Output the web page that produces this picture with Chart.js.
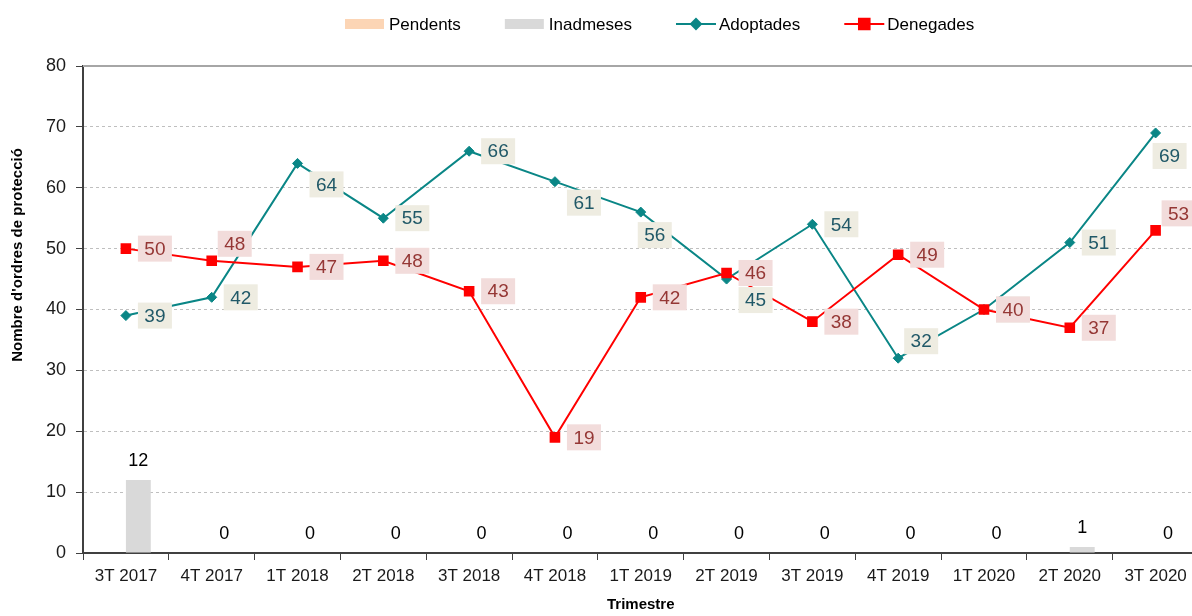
<!DOCTYPE html>
<html>
<head>
<meta charset="utf-8">
<script src="https://cdn.jsdelivr.net/npm/chart.js@4.4.1/dist/chart.umd.min.js"></script>
<style>
  html, body { margin: 0; padding: 0; background: #fff; overflow: hidden; }
  #wrap { width: 1206px; height: 616px; }
</style>
</head>
<body>
<div id="wrap"><canvas id="grafic" width="1206" height="616"></canvas></div>
<script>
// dades llegides del gràfic
const trimestres = ['3T 2017', '4T 2017', '1T 2018', '2T 2018', '3T 2018', '4T 2018', '1T 2019',
                    '2T 2019', '3T 2019', '4T 2019', '1T 2020', '2T 2020', '3T 2020'];
const pendents  = [0, 0, 0, 0, 0, 0, 0, 0, 0, 0, 0, 0, 0];
const inadmeses = [12, 0, 0, 0, 0, 0, 0, 0, 0, 0, 0, 1, 0];
const adoptades = [39, 42, 64, 55, 66, 61, 56, 45, 54, 32, 40, 51, 69];
const denegades = [50, 48, 47, 48, 43, 19, 42, 46, 38, 49, 40, 37, 53];

// on va cada etiqueta respecte del punt (r = dreta, br = baix-dreta, b = baix, ur = dalt-dreta)
const adoptLloc = ['r', 'r', 'br', 'r', 'r', 'br', 'b', 'br', 'r', 'ur', 'r', 'r', 'b'];
const denegLloc = ['r', 'ur', 'r', 'r', 'r', 'r', 'r', 'r', 'r', 'r', 'r', 'r', 'ur'];
const desplac = { r: [29, 0], br: [29, 21], b: [14, 23], ur: [23, -17] };

const FONT = '"Liberation Sans", Arial, sans-serif';
const TEAL = '#0A8686';
const VERMELL = '#FF0000';

function etiquetesLinia(chart, idx, valors, llocs, fons, color) {
  const ctx = chart.ctx;
  const meta = chart.getDatasetMeta(idx);
  meta.data.forEach((pt, i) => {
    const [dx, dy] = desplac[llocs[i]];
    const cx = pt.x + dx, cy = pt.y + dy;
    ctx.fillStyle = fons;
    ctx.fillRect(cx - 17, cy - 13, 34, 26);
    ctx.fillStyle = color;
    ctx.fillText(String(valors[i]), cx, cy + 1);
  });
}

const etiquetes = {
  id: 'etiquetes',
  afterDatasetsDraw(chart) {
    const ctx = chart.ctx;
    const a = chart.chartArea;
    ctx.save();
    // vora superior del gràfic
    ctx.strokeStyle = '#A6A6A6';
    ctx.lineWidth = 2;
    ctx.beginPath();
    ctx.moveTo(a.left, a.top);
    ctx.lineTo(a.right, a.top);
    ctx.stroke();

    ctx.textAlign = 'center';
    ctx.textBaseline = 'middle';
    // valors de les barres
    ctx.font = '18px ' + FONT;
    ctx.fillStyle = '#000';
    chart.getDatasetMeta(1).data.forEach((bar, i) => {
      ctx.fillText(String(inadmeses[i]), bar.x, bar.y - 19);
    });
    // valors de les línies
    ctx.font = '19px ' + FONT;
    etiquetesLinia(chart, 2, adoptades, adoptLloc, '#EEECE1', '#215968');
    etiquetesLinia(chart, 3, denegades, denegLloc, '#F2DCDB', '#953735');
    ctx.restore();
  }
};

// llegenda i títol vertical dibuixats a mà
const llegenda = {
  id: 'llegenda',
  afterDraw(chart) {
    const ctx = chart.ctx;
    const y = 24;
    let x = 345;
    ctx.save();
    ctx.font = '17px ' + FONT;
    ctx.textBaseline = 'middle';
    ctx.textAlign = 'left';
    chart.data.datasets.forEach(ds => {
      if (ds.type === 'bar') {
        ctx.fillStyle = ds.backgroundColor;
        ctx.fillRect(x, y - 5, 39, 10);
        x += 44;
      } else {
        ctx.strokeStyle = ds.borderColor;
        ctx.lineWidth = 2;
        ctx.beginPath();
        ctx.moveTo(x, y);
        ctx.lineTo(x + 40, y);
        ctx.stroke();
        Chart.helpers.drawPoint(ctx, {
          pointStyle: ds.pointStyle,
          radius: ds.pointRadius,
          borderWidth: 1
        }, x + 20, y);
        ctx.fillStyle = ds.borderColor;
        ctx.fill();
        x += 43;
      }
      ctx.fillStyle = '#000';
      ctx.fillText(ds.label, x, y + 1);
      x += ctx.measureText(ds.label).width + 44;
    });

    ctx.translate(18, 255);
    ctx.rotate(-Math.PI / 2);
    ctx.textAlign = 'center';
    ctx.font = 'bold 15px ' + FONT;
    ctx.fillText("Nombre d'ordres de protecció", 0, 0);
    ctx.restore();
  }
};

new Chart(document.getElementById('grafic'), {
  type: 'bar',
  data: {
    labels: trimestres,
    datasets: [
      {
        type: 'bar',
        label: 'Pendents',
        data: pendents,
        backgroundColor: '#FCD5B5',
        borderWidth: 0,
        barPercentage: 1,
        categoryPercentage: 0.58,
        order: 2
      },
      {
        type: 'bar',
        label: 'Inadmeses',
        data: inadmeses,
        backgroundColor: '#D9D9D9',
        borderWidth: 0,
        barPercentage: 1,
        categoryPercentage: 0.58,
        order: 3
      },
      {
        type: 'line',
        label: 'Adoptades',
        data: adoptades,
        borderColor: TEAL,
        backgroundColor: TEAL,
        borderWidth: 2,
        tension: 0,
        pointStyle: 'rectRot',
        pointRadius: 5,
        pointBackgroundColor: TEAL,
        pointBorderColor: TEAL,
        pointBorderWidth: 1,
        order: 1
      },
      {
        type: 'line',
        label: 'Denegades',
        data: denegades,
        borderColor: VERMELL,
        backgroundColor: VERMELL,
        borderWidth: 2,
        tension: 0,
        pointStyle: 'rect',
        pointRadius: 7.5,
        pointBackgroundColor: VERMELL,
        pointBorderColor: VERMELL,
        pointBorderWidth: 0,
        order: 0
      }
    ]
  },
  options: {
    responsive: false,
    animation: false,
    events: [],
    devicePixelRatio: 1,
    layout: { padding: { top: 66, right: 3, left: 0, bottom: 0 } },
    plugins: {
      legend: { display: false },
      tooltip: { enabled: false }
    },
    scales: {
      x: {
        afterFit(scale) { scale.height = 63; },
        grid: {
          offset: true,
          drawOnChartArea: false,
          drawTicks: true,
          tickLength: 7,
          tickColor: '#404040',
          tickWidth: 1
        },
        border: { color: '#404040', width: 2 },
        ticks: {
          padding: 6,
          maxRotation: 0,
          autoSkip: false,
          color: '#1a1a1a',
          font: { family: FONT, size: 17 }
        },
        title: {
          display: true,
          text: 'Trimestre',
          color: '#000',
          padding: { top: 0, bottom: 2 },
          font: { family: FONT, size: 15, weight: 'bold' }
        }
      },
      y: {
        min: 0,
        max: 80,
        afterFit(scale) { scale.width = 83; },
        ticks: {
          stepSize: 10,
          padding: 10,
          color: '#1a1a1a',
          font: { family: FONT, size: 18 }
        },
        grid: {
          color: c => (c.tick && c.tick.value === 80) ? 'rgba(0,0,0,0)' : '#BFBFBF',
          lineWidth: 1,
          tickLength: 7,
          tickColor: '#404040'
        },
        border: { color: '#404040', width: 2, dash: [3, 3] }
      }
    }
  },
  plugins: [etiquetes, llegenda]
});
</script>
</body>
</html>
